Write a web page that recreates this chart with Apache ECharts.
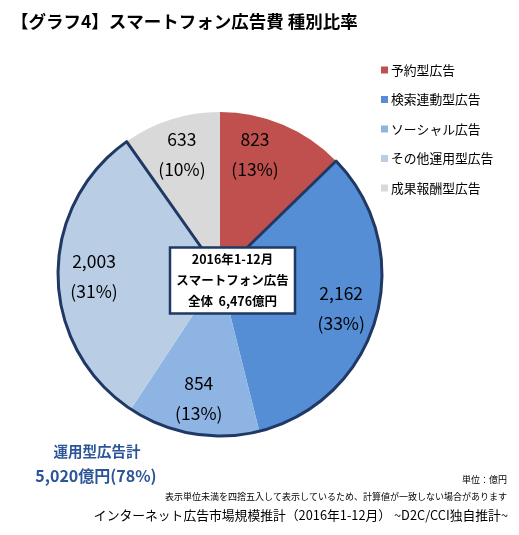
<!DOCTYPE html>
<html><head><meta charset="utf-8">
<script src="https://cdn.jsdelivr.net/npm/echarts@6/dist/echarts.min.js"></script>
<style>html,body{margin:0;padding:0;background:#fff}#c{width:519px;height:535px}</style>
</head><body><div id="c"></div>
<script>
// ---- data ----
const categories = ['予約型広告', '検索連動型広告', 'ソーシャル広告', 'その他運用型広告', '成果報酬型広告'];
const values = [823, 2162, 854, 2003, 633];
const percents = [13, 33, 13, 31, 10];
const operationalIdx = [1, 2, 3];
const totalText = '2016年1-12月\nスマートフォン広告\n全体  6,476億円';
const operationalText1 = '運用型広告計';
const operationalText2 = '5,020億円(78%)';
const titleText = '【グラフ4】スマートフォン広告費 種別比率';
const unitText = '単位：億円';
const noteText = '表示単位未満を四捨五入して表示しているため、計算値が一致しない場合があります';
const sourceText = 'インターネット広告市場規模推計（2016年1-12月） ~D2C/CCI独自推計~';

// ---- styles ----
const colors = ['#C0504D', '#558ED5', '#8EB4E3', '#B9CDE5', '#D9D9D9'];
const F = "'Noto Sans CJK JP', 'Noto Sans', sans-serif";
const navy = '#203864';
const center = [220, 274];
const R = 162;
const labelOffsets = [[-14, -4], [0, 0], [0, 0], [0, 0], [0, 0]];

const fmt = v => v.toLocaleString('en-US');
const opSum = operationalIdx.reduce((s, i) => s + values[i], 0);
const outlineData = [
  { name: 'o0', value: values[0], itemStyle: { color: 'rgba(0,0,0,0)', borderWidth: 0 } },
  { name: 'o1', value: opSum, itemStyle: { color: 'rgba(0,0,0,0)', borderColor: navy, borderWidth: 3 } },
  { name: 'o2', value: values[4], itemStyle: { color: 'rgba(0,0,0,0)', borderWidth: 0 } }
];

const chart = echarts.init(document.getElementById('c'), null, { renderer: 'canvas' });
chart.setOption({
  animation: false,
  title: [
    { text: titleText, left: 6, top: 8, textStyle: { fontFamily: F, fontSize: 17.5, fontWeight: 'bold', color: '#000' } },
    { text: totalText, left: 226.5, top: 247, textAlign: 'center',
      backgroundColor: '#fff', borderColor: navy, borderWidth: 2.5, padding: [2, 6, 2, 6],
      textStyle: { fontFamily: F, fontSize: 12.5, fontWeight: 'bold', color: '#000', lineHeight: 21, align: 'center' } },
    { text: operationalText1, left: 97, top: 444, textAlign: 'center', padding: 0,
      textStyle: { fontFamily: F, fontSize: 14.5, fontWeight: 'bold', color: '#2B5597' } },
    { text: operationalText2, left: 96, top: 468, textAlign: 'center', padding: 0,
      textStyle: { fontFamily: F, fontSize: 16, fontWeight: 'bold', color: '#2B5597' } },
    { text: unitText, right: 12, top: 475, padding: 0,
      textStyle: { fontFamily: F, fontSize: 9, fontWeight: 'normal', color: '#000' } },
    { text: noteText, right: 12, top: 492, padding: 0,
      textStyle: { fontFamily: F, fontSize: 9, fontWeight: 'normal', color: '#000' } },
    { text: sourceText, right: 11, top: 509, padding: 0,
      textStyle: { fontFamily: F, fontSize: 12.8, fontWeight: 'normal', color: '#000' } }
  ],
  legend: {
    orient: 'vertical', left: 376, top: 57,
    data: categories, icon: 'rect', itemWidth: 7, itemHeight: 7, itemGap: 13.5,
    selectedMode: false,
    textStyle: { fontFamily: F, fontSize: 12.8, color: '#000', lineHeight: 16, padding: [0, 0, 0, -2] }
  },
  series: [
    {
      type: 'pie', center: center, radius: [0, R], startAngle: 90, clockwise: true,
      silent: true, label: { show: false }, labelLine: { show: false },
      data: categories.map((c, i) => ({ name: c, value: values[i], itemStyle: { color: colors[i], borderWidth: 0 } }))
    },
    {
      type: 'pie', center: center, radius: [0, R], startAngle: 90, clockwise: true,
      silent: true, label: { show: false }, labelLine: { show: false },
      data: outlineData
    },
    {
      type: 'pie', center: center, radius: [84, R], startAngle: 90, clockwise: true,
      silent: true, labelLine: { show: false },
      itemStyle: { color: 'rgba(0,0,0,0)' },
      label: {
        show: true, position: 'inside', fontFamily: F, fontSize: 17.5, color: '#000', lineHeight: 30,
        formatter: p => fmt(values[p.dataIndex]) + '\n(' + percents[p.dataIndex] + '%)'
      },
      data: categories.map((c, i) => ({ name: 'l' + i, value: values[i], label: { offset: labelOffsets[i] } }))
    }
  ]
});
</script>
</body></html>
